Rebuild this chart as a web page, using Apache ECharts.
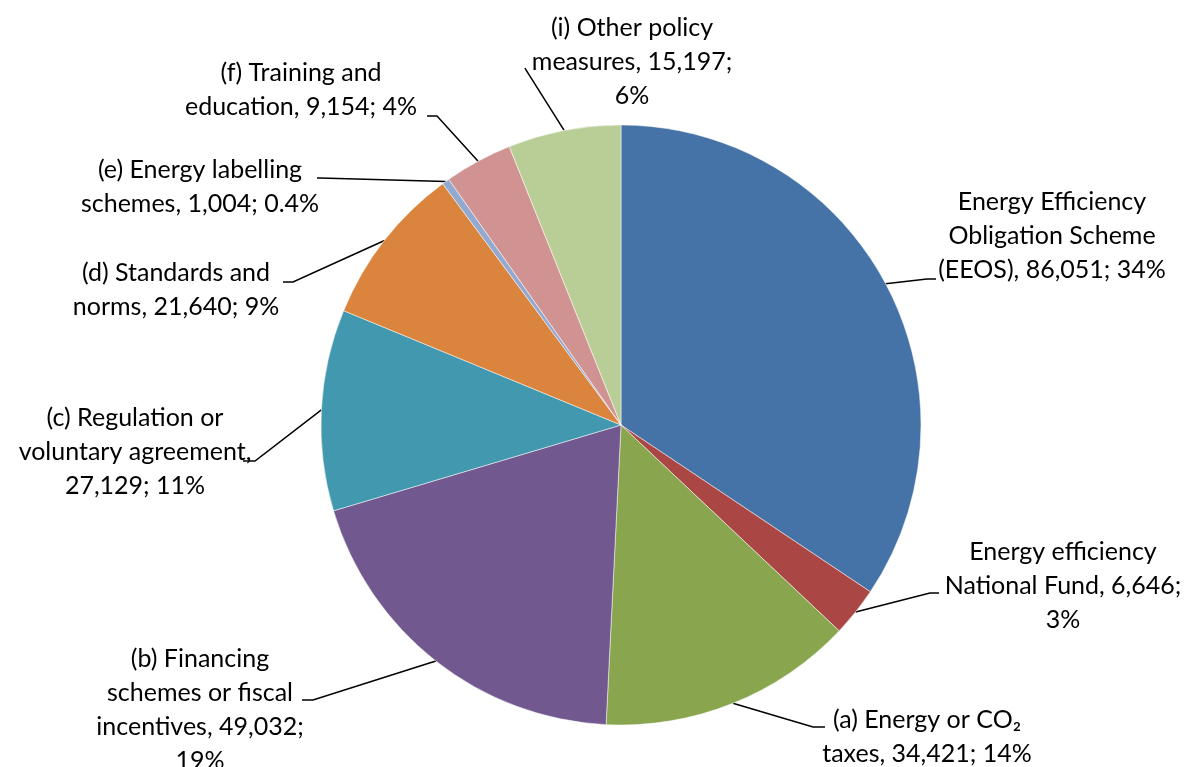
<!DOCTYPE html>
<html>
<head>
<meta charset="utf-8">
<script src="https://cdn.jsdelivr.net/npm/echarts@6/dist/echarts.min.js"></script>
<style>
  html, body { margin: 0; padding: 0; background: #fff; }
  #chart { width: 1189px; height: 767px; }
</style>
</head>
<body>
<div id="chart"></div>
<script>
// slices, clockwise from 12 o'clock
var names = [
  "Energy Efficiency\nObligation Scheme\n(EEOS)",
  "Energy efficiency\nNational Fund",
  "(a) Energy or CO\u2082\ntaxes",
  "(b) Financing\nschemes or fiscal\nincentives",
  "(c) Regulation or\nvoluntary agreement",
  "(d) Standards and\nnorms",
  "(e) Energy labelling\nschemes",
  "(f) Training and\neducation",
  "(i) Other policy\nmeasures"
];
var values = [86051, 6646, 34421, 49032, 27129, 21640, 1004, 9154, 15197];
var pctLabels = ["34%", "3%", "14%", "19%", "11%", "9%", "0.4%", "4%", "6%"];
// where value / percent go: same line (" ") or next line ("\n")
var valueSep = [" ", " ", " ", " ", "\n", " ", " ", " ", " "];
var pctSep = [" ", "\n", " ", "\n", " ", " ", " ", " ", "\n"];
var colors = ["#4572A7", "#AA4643", "#89A54E", "#71588F", "#4198AF",
              "#DB843D", "#93A9CF", "#D19392", "#B9CD96"];

// label block centres
var labelPos = [
  [1052, 236], [1063, 586], [927, 737], [200, 710], [135, 452],
  [176, 290], [200, 187], [301, 90], [632, 62]
];
// leader line: bend point, end point (start stays on the slice edge)
var leaderEnds = [
  [[927, 279], [936, 279]],
  [[930, 593], [939, 593]],
  [[813, 727], [825, 727]],
  [[313, 700], [302, 700]],
  [[255, 461], [243, 461]],
  [[293, 282], [283, 282]],
  [[320, 178], [317, 178]],
  [[437, 116], [427, 116]],
  [[526, 70], [525, 68]]
];

var myChart = echarts.init(document.getElementById("chart"));

var seriesData = values.map(function (v, i) {
  return { name: names[i], value: v, itemStyle: { color: colors[i] } };
});

function fmt(n) {
  return n.toLocaleString("en-US");
}

var option = {
  animation: false,
  series: [
    {
      type: "pie",
      center: [621, 425],
      radius: 300,
      startAngle: 90,
      clockwise: true,
      itemStyle: { borderColor: "#fff", borderWidth: 0.5 },
      label: {
        show: true,
        position: "outside",
        color: "#000",
        fontFamily: "Lato",
        fontSize: 25,
        lineHeight: 34,
        align: "center",
        formatter: function (p) {
          var i = p.dataIndex;
          return names[i] + "," + valueSep[i] + fmt(values[i]) + ";" + pctSep[i] + pctLabels[i];
        }
      },
      labelLine: {
        show: true,
        length: 20,
        length2: 10,
        lineStyle: { color: "#000", width: 1.5 }
      },
      labelLayout: function (params) {
        var i = params.dataIndex;
        var pos = labelPos[i];
        var out = { x: pos[0], y: pos[1], align: "center", verticalAlign: "middle" };
        if (params.labelLinePoints && params.labelLinePoints.length) {
          out.labelLinePoints = [params.labelLinePoints[0], leaderEnds[i][0], leaderEnds[i][1]];
        }
        return out;
      },
      data: seriesData
    }
  ]
};

myChart.setOption(option);
window.addEventListener("resize", function () {
  myChart.resize();
});
</script>
</body>
</html>
